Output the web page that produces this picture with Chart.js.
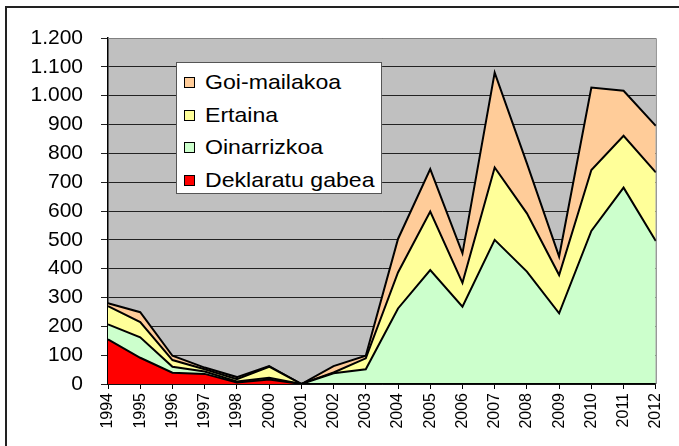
<!DOCTYPE html>
<html>
<head>
<meta charset="utf-8">
<script src="https://cdn.jsdelivr.net/npm/chart.js@4"></script>
<style>
  html, body { margin: 0; padding: 0; background: #fff; }
  #wrap { position: relative; width: 679px; height: 446px; }
  #legend {
    position: absolute; left: 176px; top: 62px;
    width: 204px; height: 130px;
    background: #fff; border: 1px solid #555;
    font-family: "Liberation Sans", Arial, sans-serif;
    font-size: 21px; color: #000;
  }
  .legend-item { position: absolute; left: 7px; height: 24px; }
  .legend-box {
    position: absolute; left: 0; top: 6px;
    width: 9px; height: 9px; border: 1px solid #000;
  }
  .legend-label {
    position: absolute; left: 21px; top: -1px; white-space: nowrap;
    transform: scaleX(1.1); transform-origin: left center;
  }
</style>
</head>
<body>
<div id="wrap">
  <canvas id="chart" width="679" height="446"></canvas>
  <div id="legend"></div>
</div>
<script>
// ── Data ──────────────────────────────────────────────────────
const years = ['1994', '1995', '1996', '1997', '1998', '2000', '2001', '2002', '2003',
               '2004', '2005', '2006', '2007', '2008', '2009', '2010', '2011', '2012'];

const deklaratuGabea = [155, 91, 39, 35, 5, 16, 0, 0, 0, 0, 0, 0, 0, 0, 0, 0, 0, 0];
const oinarrizkoa    = [52, 71, 21, 8, 4, 6, 0, 37, 51, 262, 395, 268, 500, 390, 245, 531, 681, 496];
const ertaina        = [63, 53, 23, 8, 8, 38, 0, 3, 38, 125, 203, 83, 251, 202, 133, 211, 180, 238];
const goiMailakoa    = [10, 34, 15, 6, 7, 2, 0, 22, 9, 116, 147, 102, 329, 173, 64, 286, 156, 161];

const yTicks = [0, 100, 200, 300, 400, 500, 600, 700, 800, 900, 1000, 1100, 1200];

// ── Series (bottom to top) ────────────────────────────────────
const SERIES = [
  { label: 'Deklaratu gabea', data: deklaratuGabea, color: '#ff0000' },
  { label: 'Oinarrizkoa',     data: oinarrizkoa,    color: '#ccffcc' },
  { label: 'Ertaina',         data: ertaina,        color: '#ffff99' },
  { label: 'Goi-mailakoa',    data: goiMailakoa,    color: '#ffcc99' }
];

const FONT = '"Liberation Sans", Arial, sans-serif';

function formatThousands(v) {
  return String(v).replace(/\B(?=(\d{3})+(?!\d))/g, '.');
}

// plot background, plot border and outer frame
const framePlugin = {
  id: 'frame',
  beforeDraw: function (chart) {
    const ctx = chart.ctx;
    const a = chart.chartArea;
    ctx.save();
    ctx.fillStyle = '#fff';
    ctx.fillRect(0, 0, chart.width, chart.height);
    ctx.fillStyle = '#c0c0c0';
    ctx.fillRect(a.left, a.top, a.right - a.left, a.bottom - a.top);
    ctx.restore();
  },
  afterDraw: function (chart) {
    const ctx = chart.ctx;
    const a = chart.chartArea;
    ctx.save();
    ctx.strokeStyle = '#808080';
    ctx.lineWidth = 1;
    ctx.beginPath();
    ctx.moveTo(a.left, a.top + 0.5);
    ctx.lineTo(a.right + 0.5, a.top + 0.5);
    ctx.lineTo(a.right + 0.5, a.bottom);
    ctx.stroke();
    ctx.strokeStyle = '#222';
    ctx.lineWidth = 2;
    ctx.beginPath();
    ctx.moveTo(6, chart.height);
    ctx.lineTo(6, 7);
    ctx.lineTo(chart.width, 7);
    ctx.stroke();
    ctx.restore();
  }
};

new Chart(document.getElementById('chart'), {
  type: 'line',
  data: {
    labels: years,
    datasets: SERIES.map(function (s, i) {
      return {
        label: s.label,
        data: s.data,
        backgroundColor: s.color,
        borderColor: '#000',
        borderWidth: 2,
        fill: i === 0 ? 'origin' : '-1',
        pointRadius: 0,
        tension: 0
      };
    })
  },
  options: {
    responsive: false,
    animation: false,
    layout: { padding: { left: 0, top: 38, right: 23, bottom: 0 } },
    plugins: { legend: { display: false }, tooltip: { enabled: false } },
    scales: {
      x: {
        offset: false,
        grid: { drawOnChartArea: false, drawTicks: true, tickLength: 5, color: '#000' },
        border: { color: '#000', width: 1.5 },
        ticks: {
          autoSkip: false, minRotation: 90, maxRotation: 90, padding: 4,
          color: '#000', font: { family: FONT, size: 16 }
        },
        afterFit: function (scale) { scale.height = 62; }
      },
      y: {
        stacked: true,
        min: 0,
        max: 1200,
        afterBuildTicks: function (scale) {
          scale.ticks = yTicks.map(function (v) { return { value: v }; });
        },
        grid: { color: '#222', lineWidth: 1, drawTicks: true, tickLength: 7 },
        border: { color: '#000', width: 1.5 },
        ticks: {
          padding: 18, color: '#000', font: { family: FONT, size: 21 },
          callback: function (v) { return formatThousands(v); }
        },
        afterFit: function (scale) { scale.width = 108; }
      }
    }
  },
  plugins: [framePlugin]
});

// ── Legend (top to bottom, reverse stacking order) ────────────
const legendEl = document.getElementById('legend');
legendEl.innerHTML = SERIES.slice().reverse().map(function (s, i) {
  return `
    <div class="legend-item" style="top:${8 + i * 32.5}px">
      <div class="legend-box" style="background:${s.color}"></div>
      <span class="legend-label">${s.label}</span>
    </div>
  `;
}).join('');
</script>
</body>
</html>
